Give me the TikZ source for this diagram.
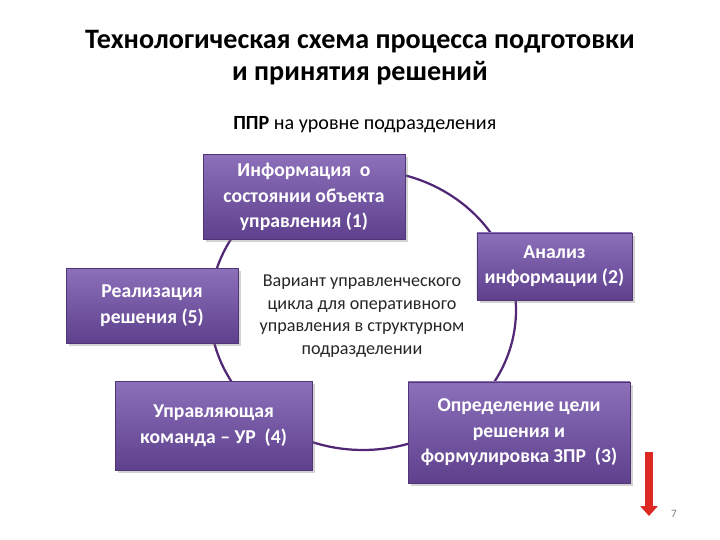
\documentclass[tikz,border=0pt]{standalone}
\usepackage{fontspec}
\setmainfont{Carlito}
\usetikzlibrary{shadows,arrows.meta}

\definecolor{boxtop}{RGB}{140,112,186}
\definecolor{boxbot}{RGB}{94,64,140}
\definecolor{ring}{RGB}{82,40,118}
\definecolor{arrowred}{RGB}{222,40,36}

\tikzset{
  stage/.style={rectangle, inner sep=0pt, top color=boxtop, bottom color=boxbot,
    draw=boxbot!85!black, very thin, text=white, align=center,
    font=\fontsize{14}{18}\selectfont\bfseries,
    drop shadow={opacity=0.35, shadow xshift=0.07, shadow yshift=-0.07}},
  note/.style={align=center, font=\fontsize{12.9}{16}\selectfont, text=black!85}
}

\begin{document}
\begin{tikzpicture}
\useasboundingbox (0,0) rectangle (18,13.5);
\node (title) [align=center, font=\fontsize{20}{22.5}\selectfont\bfseries] at (9,12.06)
  {Технологическая схема процесса подготовки\\и принятия решений};
\node (sub) [font=\fontsize{14.3}{17}\selectfont] at (9.12,10.38) {\textbf{ППР} на уровне подразделения};
% cycle
\draw[ring, line width=1.6pt] (9.075,5.75) ellipse (3.825 and 3.5);
\node (mid) [note] at (9.05,5.6) {Вариант управленческого\\цикла для оперативного\\управления в структурном\\подразделении};
\node (info) [stage, minimum width=5.05cm, minimum height=2.125cm] at (7.6,8.575)
  {Информация \ о\\состоянии объекта\\управления (1)};
\node (anal) [stage, minimum width=3.875cm, minimum height=1.675cm] at (13.86,6.84)
  {Анализ\\информации (2)};
\node (goal) [stage, minimum width=5.55cm, minimum height=2.525cm] at (12.975,2.69)
  {Определение цели\\решения и\\формулировка ЗПР \ (3)};
\node (cmd) [stage, minimum width=4.925cm, minimum height=2.225cm] at (5.34,2.86)
  {Управляющая\\команда -- УР \ (4)};
\node (impl) [stage, minimum width=4.3cm, minimum height=1.875cm] at (3.8,5.86)
  {Реализация\\решения (5)};
% page arrow
\coordinate (atop) at (16.225,2.2);
\coordinate (abot) at (16.225,0.6);
\draw[arrowred, line width=5.5pt, -{Triangle[length=7pt, width=12pt]}] (atop) -- (abot);
\node (page) [text=black!50, font=\fontsize{8}{9}\selectfont] at (16.85,0.65) {7};
\end{tikzpicture}
\end{document}
